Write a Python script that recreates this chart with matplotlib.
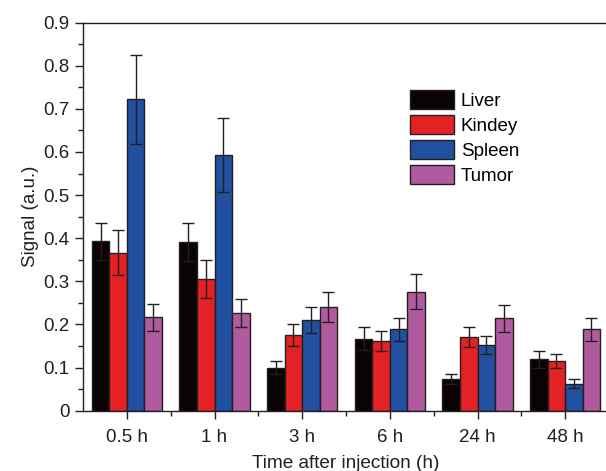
import numpy as np
import matplotlib
matplotlib.use('Agg')
import matplotlib.pyplot as plt
from matplotlib.ticker import MultipleLocator

plt.rcParams['font.family'] = ['Liberation Sans', 'DejaVu Sans']

# data
times = ['0.5 h', '1 h', '3 h', '6 h', '24 h', '48 h']
organs = ['Liver', 'Kindey', 'Spleen', 'Tumor']
liver = [0.393, 0.391, 0.100, 0.167, 0.074, 0.119]
kidney = [0.366, 0.305, 0.175, 0.162, 0.171, 0.116]
spleen = [0.722, 0.593, 0.211, 0.189, 0.152, 0.063]
tumor = [0.217, 0.227, 0.240, 0.276, 0.214, 0.189]
liver_err = [0.043, 0.044, 0.015, 0.026, 0.012, 0.020]
kidney_err = [0.052, 0.044, 0.026, 0.024, 0.024, 0.016]
spleen_err = [0.104, 0.085, 0.030, 0.027, 0.021, 0.010]
tumor_err = [0.031, 0.032, 0.035, 0.040, 0.031, 0.027]

values = [liver, kidney, spleen, tumor]
errors = [liver_err, kidney_err, spleen_err, tumor_err]
colors = ['#0a0203', '#e42226', '#2150a0', '#b05ba0']

fig = plt.figure(figsize=(6.06, 4.71), dpi=100)
ax = fig.add_axes([0.137, 0.128, 0.868, 0.824])

x = np.arange(len(times))
w = 0.2
for i in range(4):
    pos = x + (i - 1.5) * w
    ax.bar(pos, values[i], w, color=colors[i], edgecolor='#231f20', linewidth=1.0,
           label=organs[i], zorder=2)
    ax.errorbar(pos, values[i], yerr=errors[i], fmt='none', ecolor='#231f20',
                elinewidth=1.0, capsize=4, capthick=1.0, zorder=3)

ax.set_xlim(-0.5, 5.5)
ax.set_ylim(0, 0.9)
ax.set_xticks(x)
ax.set_xticklabels(times)
ax.set_xticks(x[:-1] + 0.5, minor=True)
ax.yaxis.set_major_locator(MultipleLocator(0.1))
ax.yaxis.set_minor_locator(MultipleLocator(0.05))
ax.set_yticks([0, 0.1, 0.2, 0.3, 0.4, 0.5, 0.6, 0.7, 0.8, 0.9])
ax.set_yticklabels(['0', '0.1', '0.2', '0.3', '0.4', '0.5', '0.6', '0.7', '0.8', '0.9'])

ax.tick_params(axis='both', which='major', direction='out', length=6, width=1,
               labelsize=13.5, colors='#231f20')
ax.tick_params(axis='both', which='minor', direction='out', length=3.5, width=1,
               colors='#231f20')
ax.tick_params(axis='x', which='major', pad=7)
for s in ax.spines.values():
    s.set_linewidth(1.0)
    s.set_color('#231f20')
ax.spines['right'].set_visible(False)

ax.set_ylabel('Signal (a.u.)', fontsize=13.5, color='#231f20', labelpad=3)
ax.set_xlabel('Time after injection (h)', fontsize=13.7, color='#231f20', labelpad=7)

ax.legend(loc='upper left', bbox_to_anchor=(0.622, 0.826), frameon=False,
          fontsize=13.5, handlelength=2.35, handleheight=1.17,
          labelspacing=0.28, handletextpad=0.35, borderaxespad=0, borderpad=0)

plt.savefig('out.png', dpi=100)
